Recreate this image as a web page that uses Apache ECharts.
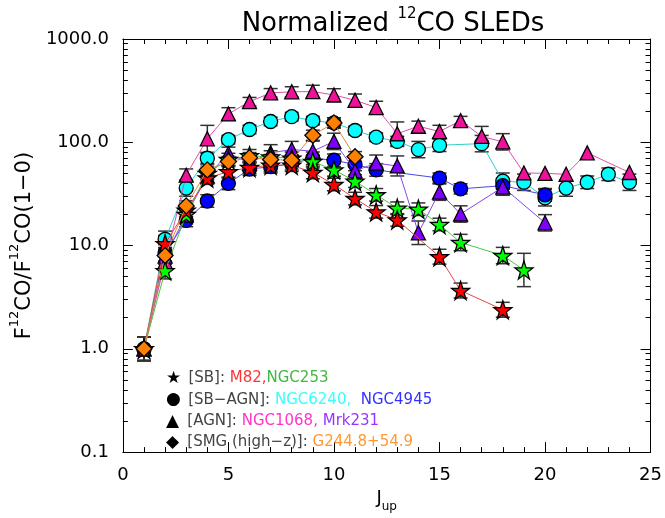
<!DOCTYPE html>
<html>
<head>
<meta charset="utf-8">
<script src="https://cdn.jsdelivr.net/npm/echarts@6/dist/echarts.min.js"></script>
<style>
  html, body { margin: 0; padding: 0; background: #fff; }
  #chart { width: 665px; height: 518px; }
</style>
</head>
<body>
<div id="chart"></div>
<script>
// J_up and normalised line fluxes
var ngc1068J = [1,2,3,4,5,6,7,8,9,10,11,12,13,14,15,16,17,18,19,20,21,22,24];
var ngc1068V = [1.0,7.0,48,108,188,247,301,308,310,287,255,217,121,143,127,162,114,101,50.5,50,49,79,51];
var ngc1068E = [0.3,0.2,0.15,0.35,0.15,0.1,0.1,0.12,0.15,0.15,0.15,0.15,0.3,0.12,0.15,0.1,0.25,0.2,0,0,0,0,0];

var ngc6240J = [1,2,3,4,5,6,7,8,9,10,11,12,13,14,15,17,18,19,20,21,22,23,24];
var ngc6240V = [1.0,11.5,36,70,106,133,159,177,162,154,130,112,102,85,93.6,97,42,41,29,36,41,49,41];
var ngc6240E = [0.3,0.2,0.2,0.12,0.1,0.1,0.1,0.1,0.1,0.12,0.1,0.1,0.12,0.2,0.15,0.2,0.2,0.2,0.2,0.2,0.15,0.15,0.2];

var ngc4945J = [1,2,3,4,5,6,7,8,9,10,11,12,15,16,18,20];
var ngc4945V = [1.0,8.5,17.5,27,40,55,58,62,70,67,61,54,45,35.4,38,31];
var ngc4945E = [0.3,0.2,0.15,0.15,0.15,0.15,0.15,0.15,0.15,0.15,0.15,0.15,0.12,0.12,0.15,0.15];

var mrk231J = [1,2,3,4,5,6,7,8,9,10,11,12,13,14,15,16,18,20];
var mrk231V = [1.0,7.9,19.7,47,78,63,79,85,82,102,53,62.7,59,13.3,32.9,20.2,36.8,16.6];
var mrk231E = [0.3,0.2,0.15,0.15,0.15,0.15,0.2,0.2,0.25,0.2,0.2,0.2,0.25,0.3,0.2,0.2,0.2,0.2];

var ngc253J = [1,2,3,4,5,6,7,8,9,10,11,12,13,14,15,16,18,19];
var ngc253V = [1.0,5.7,20,50,68,74,72,70,65,54,42,31,23,22.5,16,10.7,8.0,5.8];
var ngc253E = [0.3,0.2,0.15,0.15,0.15,0.15,0.15,0.15,0.15,0.15,0.15,0.15,0.15,0.15,0.15,0.2,0.2,0.45];

var m82J = [1,2,3,4,5,6,7,8,9,10,11,12,13,15,16,18];
var m82V = [1.0,10.4,22,45,52,57,60,60,51,39,28.5,21.2,17.7,7.8,3.67,2.39];
var m82E = [0.3,0.2,0.15,0.15,0.15,0.15,0.15,0.15,0.15,0.15,0.15,0.15,0.15,0.18,0.18,0.18];

var g244J = [1,2,3,4,5,6,7,8,9,10,11];
var g244V = [1.0,8.0,24.2,54,65,71,68,67,117,154,72.5];
var g244E = [0.3,0.15,0.12,0.12,0.12,0.12,0.12,0.12,0.12,0.12,0.12];

// axis ticks
var xMajor = 5;
var yLabels = [0.1, 1, 10, 100, 1000];
var yMinor = [0.2,0.3,0.4,0.5,0.6,0.7,0.8,0.9,2,3,4,5,6,7,8,9,20,30,40,50,60,70,80,90,200,300,400,500,600,700,800,900];

var chart = echarts.init(document.getElementById('chart'));

var star = 'path://M50,0 L61.8,35.1 L98.1,35.1 L68.8,56.7 L79.4,91.2 L50,70 L20.6,91.2 L31.2,56.7 L1.9,35.1 L38.2,35.1 Z';

// bottom to top drawing order
var sets = [
  {name: 'NGC6240', J: ngc6240J, V: ngc6240V, E: ngc6240E, fill: '#00ffff', line: '#30d0d0', sym: 'circle', size: 14},
  {name: 'NGC1068', J: ngc1068J, V: ngc1068V, E: ngc1068E, fill: '#ee1199', line: '#e050b0', sym: 'triangle', size: 14},
  {name: 'NGC4945', J: ngc4945J, V: ngc4945V, E: ngc4945E, fill: '#0000ff', line: '#4848e8', sym: 'circle', size: 14},
  {name: 'Mrk231', J: mrk231J, V: mrk231V, E: mrk231E, fill: '#7f00ff', line: '#8848e8', sym: 'triangle', size: 14},
  {name: 'NGC253', J: ngc253J, V: ngc253V, E: ngc253E, fill: '#00ff00', line: '#48c848', sym: star, size: 18},
  {name: 'M82', J: m82J, V: m82V, E: m82E, fill: '#ff0000', line: '#e04848', sym: star, size: 18},
  {name: 'G244.8+54.9', J: g244J, V: g244V, E: g244E, fill: '#ff8000', line: '#e08848', sym: 'diamond', size: 16}
];

var errData = [];
sets.forEach(function (s) {
  s.J.forEach(function (j, i) {
    if (s.E[i] > 0) errData.push([j, s.V[i] / (1 + s.E[i]), s.V[i] * (1 + s.E[i])]);
  });
});

var series = [{
  type: 'custom',
  z: 1,
  silent: true,
  data: errData,
  renderItem: function (params, api) {
    var lo = api.coord([api.value(0), api.value(1)]);
    var hi = api.coord([api.value(0), api.value(2)]);
    var w = 7;
    var st = {stroke: '#333', lineWidth: 1.5};
    return {
      type: 'group',
      children: [
        {type: 'line', shape: {x1: lo[0], y1: lo[1], x2: hi[0], y2: hi[1]}, style: st},
        {type: 'line', shape: {x1: lo[0] - w, y1: lo[1], x2: lo[0] + w, y2: lo[1]}, style: st},
        {type: 'line', shape: {x1: hi[0] - w, y1: hi[1], x2: hi[0] + w, y2: hi[1]}, style: st}
      ]
    };
  }
}];

sets.forEach(function (s, k) {
  series.push({
    name: s.name,
    type: 'line',
    z: 2 + k,
    data: s.J.map(function (j, i) { return [j, s.V[i]]; }),
    symbol: s.sym,
    symbolSize: s.size,
    showAllSymbol: true,
    lineStyle: {color: s.line, width: 1},
    itemStyle: {color: s.fill, borderColor: '#000', borderWidth: 1.3},
    emphasis: {disabled: true}
  });
});

var tickFont = {fontFamily: 'DejaVu Sans', fontSize: 18, color: '#000'};

function xAxisDef(pos, labels) {
  return {
    type: 'value', position: pos, min: 0, max: 25, interval: xMajor,
    axisLine: {show: true, onZero: false, lineStyle: {color: '#000', width: 1}},
    axisTick: {show: true, inside: true, length: 10, lineStyle: {color: '#000'}},
    minorTick: {show: true, splitNumber: 5, length: 5, lineStyle: {color: '#000'}},
    axisLabel: Object.assign({show: labels, margin: 14}, tickFont),
    splitLine: {show: false}
  };
}

function yAxisDef(pos, labels, minor) {
  return {
    type: 'log', logBase: 10, position: pos, min: 0.1, max: 1000,
    axisLine: {show: !minor, onZero: false, lineStyle: {color: '#000', width: 1}},
    axisTick: {show: true, inside: true, length: minor ? 5 : 10, customValues: minor ? yMinor : yLabels, lineStyle: {color: '#000'}},
    axisLabel: Object.assign({show: labels, margin: 14, customValues: yLabels, formatter: function (v) { return Number(v).toFixed(1); }}, tickFont),
    splitLine: {show: false}
  };
}

var yLeft = yAxisDef('left', true, false);
yLeft.name = '{t|F}{s|12}{t|CO/F}{s|12}{t|CO(1\u22120)}';
yLeft.nameLocation = 'middle';
yLeft.nameRotate = 90;
yLeft.nameGap = 79;
yLeft.nameTextStyle = {
  rich: {
    t: {fontFamily: 'DejaVu Sans', fontSize: 21, color: '#000', lineHeight: 27, verticalAlign: 'bottom'},
    s: {fontFamily: 'DejaVu Sans', fontSize: 13, color: '#000', lineHeight: 13, verticalAlign: 'top'}
  }
};

var xBottom = xAxisDef('bottom', true);
xBottom.name = '{t|J}{s|up}';
xBottom.nameLocation = 'middle';
xBottom.nameGap = 34;
xBottom.nameTextStyle = {
  rich: {
    t: {fontFamily: 'DejaVu Sans', fontSize: 18, color: '#000', lineHeight: 24, verticalAlign: 'top'},
    s: {fontFamily: 'DejaVu Sans', fontSize: 12, color: '#000', lineHeight: 13, verticalAlign: 'bottom'}
  }
};

function tok(color, size) {
  return {fontFamily: 'DejaVu Sans', fontSize: size || 15, fill: color, color: color};
}
var legendRich = {
  k: {fontFamily: 'DejaVu Sans', fontSize: 17, fill: '#000', color: '#000', width: 20, align: 'center'},
  b: tok('#444'),
  r: tok('#ff3333'),
  g: tok('#40b840'),
  c: tok('#33ffff'),
  u: tok('#3333ff'),
  m: tok('#ff33cc'),
  p: tok('#9933ff'),
  o: tok('#ff9933')
};
var legendLines = [
  '{k|\u2605} {b|[SB]: }{r|M82,}{g|NGC253}',
  '{k|\u25CF} {b|[SB\u2212AGN]: }{c|NGC6240,}{b|  }{u|NGC4945}',
  '{k|\u25B2} {b|[AGN]: }{m|NGC1068,}{b| }{p|Mrk231}',
  '{k|\u25C6} {b|[SMG (high\u2212z)]: }{o|G244.8+54.9}'
];

var option = {
  backgroundColor: '#fff',
  animation: false,
  title: {
    text: '{t|Normalized }{s|12}{t|CO SLEDs}',
    left: 388, top: 2, textAlign: 'center',
    textStyle: {
      fontFamily: 'DejaVu Sans', fontSize: 26, fontWeight: 'normal', color: '#000',
      rich: {
        t: {fontFamily: 'DejaVu Sans', fontSize: 26, color: '#000', lineHeight: 30, verticalAlign: 'bottom'},
        s: {fontFamily: 'DejaVu Sans', fontSize: 15, color: '#000', lineHeight: 15, verticalAlign: 'top'}
      }
    }
  },
  grid: {left: 120, right: 12, top: 39, bottom: 61, containLabel: false},
  xAxis: [xBottom, xAxisDef('top', false)],
  yAxis: [yLeft, yAxisDef('left', false, true), yAxisDef('right', false, false), yAxisDef('right', false, true)],
  graphic: legendLines.map(function (t, i) {
    return {
      type: 'text', left: 166, top: 370 + i * 21.3, z: 100,
      style: {text: t, rich: legendRich, fill: '#444', font: '15px "DejaVu Sans"'}
    };
  }),
  series: series
};

chart.setOption(option);
</script>
</body>
</html>
